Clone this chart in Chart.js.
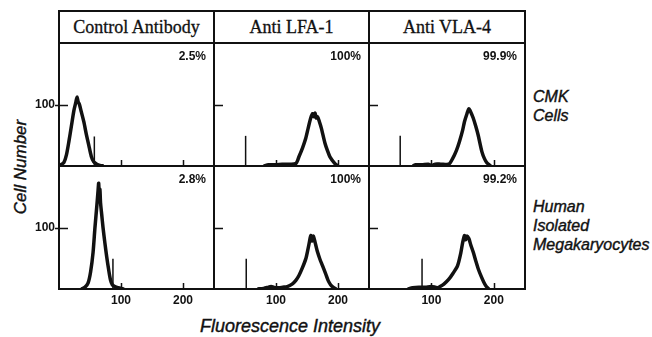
<!DOCTYPE html>
<html>
<head>
<meta charset="utf-8">
<script src="https://cdn.jsdelivr.net/npm/chart.js@4.4.0/dist/chart.umd.min.js"></script>
<style>
  body { margin: 0; background: #fff; }
  #wrap { position: relative; width: 652px; height: 337px; overflow: hidden; font-family: "Liberation Sans", Arial, sans-serif; color: #111; }
  #wrap canvas { position: absolute; left: 0; top: 0; }
  .head { position: absolute; top: 10px; height: 34px; box-sizing: border-box; border: 2px solid #111; text-align: center;
          font-family: "Liberation Serif", "Times New Roman", serif; font-size: 18px; line-height: 30px; -webkit-text-stroke: 0.3px #111; }
  .side { position: absolute; left: 533px; font-style: italic; font-size: 16px; line-height: 19px; -webkit-text-stroke: 0.4px #111; }
  .ytitle { position: absolute; left: 21px; top: 167px; transform: translate(-50%, -50%) rotate(-90deg);
            font-style: italic; font-size: 17px; white-space: nowrap; -webkit-text-stroke: 0.4px #111; }
  .xtitle { position: absolute; left: 290px; top: 326px; transform: translate(-50%, -50%);
            font-style: italic; font-size: 18px; white-space: nowrap; -webkit-text-stroke: 0.4px #111; }
</style>
</head>
<body>
<div id="wrap">
  <div class="head" style="left:58px;width:157px">Control Antibody</div>
  <div class="head" style="left:213px;width:157px">Anti LFA-1</div>
  <div class="head" style="left:368px;width:158px">Anti VLA-4</div>
  <div class="side" style="top:87px">CMK<br>Cells</div>
  <div class="side" style="top:197px">Human<br>Isolated<br>Megakaryocytes</div>
  <div class="ytitle">Cell Number</div>
  <div class="xtitle">Fluorescence Intensity</div>
</div>
<script>
// --- ejes ---
const xMax = 250;
const yMax = 200;
const xTicks = [100, 200];
const yTicks = [100];
const percents = [['2.5%', '100%', '99.9%'], ['2.8%', '100%', '99.2%']];

// --- CMK Cells ---
const cmkControlX = [0, 3, 8, 12, 16, 20, 24, 27, 29, 31, 33, 36, 40, 44, 48, 52, 56, 61, 66, 72];
const cmkControlY = [1, 2, 6, 18, 40, 65, 90, 103, 112, 104, 100, 88, 72, 52, 34, 16, 7, 3, 1, 0];
const cmkLfaX = [80, 88, 100, 110, 120, 132, 137, 143, 148, 152, 156, 159, 161, 163, 165, 167, 170, 173, 179, 183, 187, 195, 200];
const cmkLfaY = [0, 2, 2, 3, 3, 4, 15, 30, 45, 62, 78, 85, 80, 86, 78, 80, 72, 62, 37, 25, 15, 4, 0];
const cmkVlaX = [70, 75, 85, 95, 100, 106, 115, 128, 134, 140, 145, 150, 153, 157, 160, 163, 167, 171, 175, 181, 185, 189, 195];
const cmkVlaY = [0, 2, 2, 3, 1, 3, 3, 3, 12, 25, 40, 58, 72, 85, 93, 88, 78, 65, 50, 23, 12, 5, 0];

// --- Human Isolated Megakaryocytes ---
const megControlX = [36, 42, 47, 51, 55, 58, 61, 63, 64, 65, 66, 67, 69, 71, 74, 77, 80, 83, 86, 90, 95, 105];
const megControlY = [0, 3, 10, 28, 60, 100, 135, 160, 172, 150, 162, 140, 120, 100, 75, 52, 32, 15, 7, 4, 2, 0];
const megLfaX = [70, 80, 88, 92, 96, 100, 105, 111, 118, 126, 132, 137, 142, 148, 151, 154, 156, 158, 160, 162, 164, 167, 171, 175, 180, 184, 188, 192, 197];
const megLfaY = [0, 1, 3, 4, 3, 2, 2, 3, 4, 8, 14, 22, 33, 49, 62, 77, 87, 78, 86, 80, 72, 60, 48, 38, 25, 14, 7, 3, 0];
const megVlaX = [62, 70, 80, 90, 100, 106, 110, 114, 120, 128, 135, 142, 147, 150, 153, 155, 157, 160, 163, 167, 171, 175, 180, 184, 188, 192];
const megVlaY = [0, 2, 3, 3, 4, 3, 2, 4, 8, 16, 26, 38, 58, 75, 87, 80, 86, 82, 72, 60, 46, 33, 20, 11, 4, 0];

// marcadores verticales (posicion y altura)
const markerX = [[57, 51, 50], [87, 52, 85]];
const markerY = [[48, 49, 49], [49, 49, 49]];

const curves = [
  [[cmkControlX, cmkControlY], [cmkLfaX, cmkLfaY], [cmkVlaX, cmkVlaY]],
  [[megControlX, megControlY], [megLfaX, megLfaY], [megVlaX, megVlaY]]
];

// bordes de los paneles en la pagina
const colEdges = [59, 214, 369, 525];
const rowEdges = [43, 166, 289];
const W = 652, H = 337;

const toPoints = (xs, ys) => xs.map((x, i) => ({ x, y: ys[i] }));

const panelDecor = {
  id: 'panelDecor',
  afterDraw(chart, args, opts) {
    const { ctx, chartArea: a } = chart;
    const xs = chart.scales.x, ys = chart.scales.y;
    ctx.save();
    ctx.strokeStyle = '#111';
    ctx.fillStyle = '#111';
    ctx.lineWidth = 2;
    ctx.strokeRect(a.left, a.top, a.right - a.left, a.bottom - a.top);

    ctx.lineWidth = 1.5;
    ctx.beginPath();
    xTicks.forEach(v => {
      const px = Math.round(xs.getPixelForValue(v)) + 0.5;
      ctx.moveTo(px, a.bottom);
      ctx.lineTo(px, a.bottom - 6);
    });
    yTicks.forEach(v => {
      const py = Math.round(ys.getPixelForValue(v)) + 0.5;
      ctx.moveTo(opts.yLabels ? a.left - 4 : a.left, py);
      ctx.lineTo(a.left + 9, py);
    });
    ctx.stroke();

    ctx.font = 'bold 12px "Liberation Sans", Arial, sans-serif';
    if (opts.xLabels) {
      ctx.textAlign = 'center';
      ctx.textBaseline = 'middle';
      xTicks.forEach(v => ctx.fillText(String(v), xs.getPixelForValue(v), a.bottom + 12));
    }
    if (opts.yLabels) {
      ctx.textAlign = 'right';
      ctx.textBaseline = 'middle';
      yTicks.forEach(v => ctx.fillText(String(v), a.left - 4, ys.getPixelForValue(v)));
    }
    ctx.textAlign = 'right';
    ctx.textBaseline = 'middle';
    ctx.fillText(opts.pct, a.right - 8, a.top + 14);
    ctx.restore();
  }
};

const wrap = document.querySelector('#wrap');

for (let r = 0; r < 2; r++) {
  for (let c = 0; c < 3; c++) {
    const canvas = document.createElement('canvas');
    canvas.width = W;
    canvas.height = H;
    wrap.appendChild(canvas);

    const [cx, cy] = curves[r][c];
    new Chart(canvas, {
      type: 'line',
      data: {
        datasets: [
          {
            data: toPoints(cx, cy),
            borderColor: '#111',
            borderWidth: 3.5,
            pointRadius: 0,
            tension: 0.25,
            fill: false
          },
          {
            data: toPoints([markerX[r][c], markerX[r][c]], [0, markerY[r][c]]),
            borderColor: '#111',
            borderWidth: 1.5,
            pointRadius: 0,
            fill: false
          }
        ]
      },
      options: {
        responsive: false,
        animation: false,
        devicePixelRatio: 1,
        layout: {
          padding: {
            left: colEdges[c],
            right: W - colEdges[c + 1],
            top: rowEdges[r],
            bottom: H - rowEdges[r + 1]
          }
        },
        scales: {
          x: { type: 'linear', min: 0, max: xMax, display: false },
          y: { type: 'linear', min: 0, max: yMax, display: false }
        },
        plugins: {
          legend: { display: false },
          tooltip: { enabled: false },
          panelDecor: { xLabels: r === 1, yLabels: c === 0, pct: percents[r][c] }
        }
      },
      plugins: [panelDecor]
    });
  }
}
</script>
</body>
</html>
